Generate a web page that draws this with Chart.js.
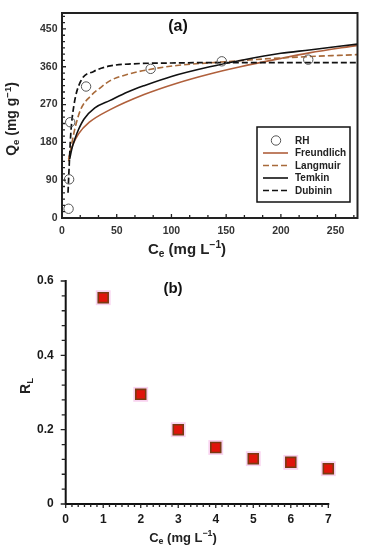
<!DOCTYPE html>
<html>
<head>
<meta charset="utf-8">
<script src="https://cdn.jsdelivr.net/npm/chart.js@4/dist/chart.umd.min.js"></script>
<style>
html,body{margin:0;padding:0;background:#fff;}
#wrap{position:relative;width:371px;height:550px;}
#pa{position:absolute;left:0;top:0;width:371px;height:258px;}
#pb{position:absolute;left:0;top:258px;width:371px;height:292px;}
</style>
</head>
<body>
<div id="wrap">
  <div id="pa"><canvas id="ca"></canvas></div>
  <div id="pb"><canvas id="cb"></canvas></div>
</div>
<script>
// ---------- Data: panel (a) ----------
const rhC = [6, 6.5, 7.5, 22, 81, 146, 225];
const rhQ = [22, 92, 228, 313, 355, 373, 377];

const freundlichC = [6, 8, 10, 15, 25, 44, 75, 105, 135, 163, 200, 226, 270];
const freundlichQ = [140, 160, 175, 200, 228, 258, 294, 321, 343, 360, 380, 393, 411];

const langmuirC = [6, 9, 12, 17, 26, 35, 44, 60, 81, 105, 144, 200, 270];
const langmuirQ = [135, 178, 215, 258, 290, 310, 327, 342, 354, 363, 371, 381, 389];

const temkinC = [7, 9, 12, 15, 20, 30, 44, 60, 75, 100, 135, 163, 200, 226, 270];
const temkinQ = [140, 165, 190, 210, 235, 262, 280, 300, 315, 337, 360, 375, 392, 400, 414];

const dubininC = [5.5, 6.5, 8, 11, 17, 29, 44, 65, 100, 150, 270];
const dubininQ = [60, 120, 200, 270, 325, 349, 362, 367, 369, 370, 370];

const seriesNamesA = ['RH', 'Freundlich', 'Langmuir', 'Temkin', 'Dubinin'];
const xTicksA = [0, 50, 100, 150, 200, 250];
const yTicksA = [0, 90, 180, 270, 360, 450];

// ---------- Data: panel (b) ----------
const ceB = [1, 2, 3, 4, 5, 6, 7];
const rlB = [0.555, 0.295, 0.2, 0.152, 0.122, 0.112, 0.095];
const xTicksB = [0, 1, 2, 3, 4, 5, 6, 7];
const yTicksB = [0, 0.2, 0.4, 0.6];

const pts = (xs, ys) => xs.map((x, i) => ({x: x, y: ys[i]}));
const FONT = '"Liberation Sans", Arial, sans-serif';

function drawRich(ctx, parts, cx, cy, rot, size, color) {
  ctx.save();
  ctx.translate(cx, cy);
  if (rot) ctx.rotate(-Math.PI / 2);
  ctx.fillStyle = color;
  ctx.textBaseline = 'middle';
  ctx.textAlign = 'left';
  let total = 0;
  parts.forEach(p => {
    const s = p.sub || p.sup ? size * 0.68 : size;
    p.f = 'bold ' + s + 'px ' + FONT;
    ctx.font = p.f;
    p.w = ctx.measureText(p.t).width;
    total += p.w;
  });
  let x = -total / 2;
  parts.forEach(p => {
    ctx.font = p.f;
    const dy = p.sub ? size * 0.3 : (p.sup ? -size * 0.33 : 0);
    ctx.fillText(p.t, x, dy);
    x += p.w;
  });
  ctx.restore();
}

function ticksAlong(ctx, scale, area, step, vmin, vmax, majors, lenMaj, lenMin, dir, axis) {
  ctx.save();
  ctx.strokeStyle = '#222';
  ctx.lineWidth = 1.3;
  ctx.beginPath();
  const n = Math.round((vmax - vmin) / step);
  for (let i = 0; i <= n; i++) {
    const v = vmin + i * step;
    const isMaj = majors.some(m => Math.abs(m - v) < 1e-6);
    const L = isMaj ? lenMaj : lenMin;
    const p = scale.getPixelForValue(v);
    if (axis === 'x') {
      ctx.moveTo(p, area.bottom);
      ctx.lineTo(p, area.bottom + dir * L);
    } else {
      ctx.moveTo(area.left, p);
      ctx.lineTo(area.left + dir * L, p);
    }
  }
  ctx.stroke();
  ctx.restore();
}

// ---------- Panel (a) ----------
const colFr = '#b0603c', colLa = '#a86a3a', colTe = '#111', colDu = '#111';

const plugA = {
  id: 'decorA',
  afterDraw(chart) {
    const ctx = chart.ctx, a = chart.chartArea;
    const xs = chart.scales.x, ys = chart.scales.y;
    // minor ticks, inward
    ticksAlong(ctx, xs, a, 50 / 3, 0, 270, xTicksA, 4, 3, -1, 'x');
    ticksAlong(ctx, ys, a, 15, 0, 480, yTicksA, 4, 3, 1, 'y');
    // frame
    ctx.save();
    ctx.strokeStyle = '#222';
    ctx.lineWidth = 2;
    ctx.strokeRect(a.left, a.top, a.right - a.left, a.bottom - a.top);
    ctx.restore();
    // panel label
    ctx.save();
    ctx.font = 'bold 16px ' + FONT;
    ctx.fillStyle = '#111';
    ctx.textAlign = 'center';
    ctx.textBaseline = 'middle';
    ctx.fillText('(a)', 178, 27);
    ctx.restore();
    // axis titles
    drawRich(ctx, [{t: 'C'}, {t: 'e', sub: 1}, {t: ' (mg L'}, {t: '\u22121', sup: 1}, {t: ')'}], 187, 250, false, 15, '#222');
    drawRich(ctx, [{t: 'Q'}, {t: 'e', sub: 1}, {t: ' (mg g'}, {t: '\u22121', sup: 1}, {t: ')'}], 12.5, 119, true, 14, '#222');
    // legend
    ctx.save();
    const bx = 257, by = 127, bw = 93, bh = 75;
    ctx.fillStyle = '#fff';
    ctx.fillRect(bx, by, bw, bh);
    ctx.strokeStyle = '#111';
    ctx.lineWidth = 1.5;
    ctx.strokeRect(bx, by, bw, bh);
    const rows = [140.5, 153, 165.5, 178, 190.5];
    const dss = chart.data.datasets;
    ctx.font = 'bold 10px ' + FONT;
    ctx.textBaseline = 'middle';
    ctx.textAlign = 'left';
    rows.forEach((ry, i) => {
      const ds = dss[i];
      if (i === 0) {
        ctx.beginPath();
        ctx.strokeStyle = ds.borderColor;
        ctx.lineWidth = 1;
        ctx.arc(276, ry, 4.7, 0, Math.PI * 2);
        ctx.stroke();
      } else {
        ctx.beginPath();
        ctx.strokeStyle = ds.borderColor;
        ctx.lineWidth = ds.borderWidth;
        ctx.setLineDash(ds.borderDash || []);
        ctx.moveTo(263, ry);
        ctx.lineTo(288, ry);
        ctx.stroke();
        ctx.setLineDash([]);
      }
      ctx.fillStyle = '#222';
      ctx.fillText(ds.label, 295, ry + 0.5);
    });
    ctx.restore();
  }
};

const lineDs = (label, xs, ys, color, dash, w) => ({
  label: label, data: pts(xs, ys), showLine: true, borderColor: color,
  borderWidth: w, borderDash: dash, pointRadius: 0, pointHoverRadius: 0,
  cubicInterpolationMode: 'monotone', fill: false
});

new Chart(document.getElementById('ca'), {
  type: 'scatter',
  data: {
    datasets: [
      {label: seriesNamesA[0], data: pts(rhC, rhQ), pointStyle: 'circle', pointRadius: 4.7,
       borderColor: '#555', backgroundColor: 'rgba(0,0,0,0)', borderWidth: 1, showLine: false, order: 0},
      Object.assign(lineDs(seriesNamesA[1], freundlichC, freundlichQ, colFr, [], 1.6), {order: 4}),
      Object.assign(lineDs(seriesNamesA[2], langmuirC, langmuirQ, colLa, [6, 3], 1.6), {order: 3}),
      Object.assign(lineDs(seriesNamesA[3], temkinC, temkinQ, colTe, [], 1.6), {order: 2}),
      Object.assign(lineDs(seriesNamesA[4], dubininC, dubininQ, colDu, [6, 3], 1.7), {order: 1})
    ]
  },
  options: {
    responsive: true, maintainAspectRatio: false, animation: false, devicePixelRatio: 1,
    layout: {padding: {left: 0, right: 13.5, top: 13, bottom: 0}},
    plugins: {legend: {display: false}, tooltip: {enabled: false}},
    scales: {
      x: {
        type: 'linear', min: 0, max: 270,
        afterFit: s => { s.height = 40; },
        grid: {display: false, drawTicks: false}, border: {display: false},
        afterBuildTicks: s => { s.ticks = xTicksA.map(v => ({value: v})); },
        ticks: {padding: 7, color: '#333', font: {family: FONT, size: 10.5, weight: 'bold'}, maxRotation: 0}
      },
      y: {
        type: 'linear', min: 0, max: 488,
        afterFit: s => { s.width = 62; },
        grid: {display: false, drawTicks: false}, border: {display: false},
        afterBuildTicks: s => { s.ticks = yTicksA.map(v => ({value: v})); },
        ticks: {padding: 4.5, color: '#333', font: {family: FONT, size: 10.5, weight: 'bold'}}
      }
    }
  },
  plugins: [plugA]
});

// ---------- Panel (b) ----------
const plugB = {
  id: 'decorB',
  afterDraw(chart) {
    const ctx = chart.ctx, a = chart.chartArea;
    const xs = chart.scales.x, ys = chart.scales.y;
    // axes
    ctx.save();
    ctx.strokeStyle = '#111';
    ctx.lineWidth = 2;
    ctx.beginPath();
    ctx.moveTo(a.left, a.top - 1);
    ctx.lineTo(a.left, a.bottom);
    ctx.lineTo(a.right + 1, a.bottom);
    ctx.stroke();
    ctx.restore();
    ticksAlong(ctx, xs, a, 1 / 6, 0, 7, xTicksB, 4, 3, 1, 'x');
    ticksAlong(ctx, ys, a, 0.04, 0, 0.6, yTicksB, 5, 4, -1, 'y');
    ctx.save();
    ctx.font = 'bold 15px ' + FONT;
    ctx.fillStyle = '#111';
    ctx.textAlign = 'center';
    ctx.textBaseline = 'middle';
    ctx.fillText('(b)', 173, 31);
    ctx.restore();
    drawRich(ctx, [{t: 'C'}, {t: 'e', sub: 1}, {t: ' (mg L'}, {t: '\u22121', sup: 1}, {t: ')'}], 183, 280, false, 13, '#222');
    drawRich(ctx, [{t: 'R'}, {t: 'L', sub: 1}], 26, 128, true, 14, '#222');
  }
};

new Chart(document.getElementById('cb'), {
  type: 'scatter',
  data: {
    datasets: [
      {label: 'RL', data: pts(ceB, rlB), pointStyle: 'rect', pointRadius: 7,
       backgroundColor: '#e0140c', borderColor: '#7a3a12', borderWidth: 1.6, showLine: false, clip: false},
      {label: 'halo', data: pts(ceB, rlB), pointStyle: 'rect', pointRadius: 10.5,
       backgroundColor: 'rgba(244,175,228,0.55)', borderWidth: 0, showLine: false, clip: false}
    ]
  },
  options: {
    responsive: true, maintainAspectRatio: false, animation: false, devicePixelRatio: 1,
    layout: {padding: {left: 0, right: 42.7, top: 23, bottom: 0}},
    plugins: {legend: {display: false}, tooltip: {enabled: false}},
    scales: {
      x: {
        type: 'linear', min: 0, max: 7,
        afterFit: s => { s.height = 46; },
        grid: {display: false, drawTicks: false}, border: {display: false},
        afterBuildTicks: s => { s.ticks = xTicksB.map(v => ({value: v})); },
        ticks: {padding: 8, color: '#1a1a1a', font: {family: FONT, size: 12, weight: 'bold'}, maxRotation: 0}
      },
      y: {
        type: 'linear', min: 0, max: 0.6,
        afterFit: s => { s.width = 65.7; },
        grid: {display: false, drawTicks: false}, border: {display: false},
        afterBuildTicks: s => { s.ticks = yTicksB.map(v => ({value: v})); },
        ticks: {padding: 12, color: '#1a1a1a', font: {family: FONT, size: 12, weight: 'bold'},
                callback: v => v === 0 ? '0' : v.toFixed(1)}
      }
    }
  },
  plugins: [plugB]
});
</script>
</body>
</html>
